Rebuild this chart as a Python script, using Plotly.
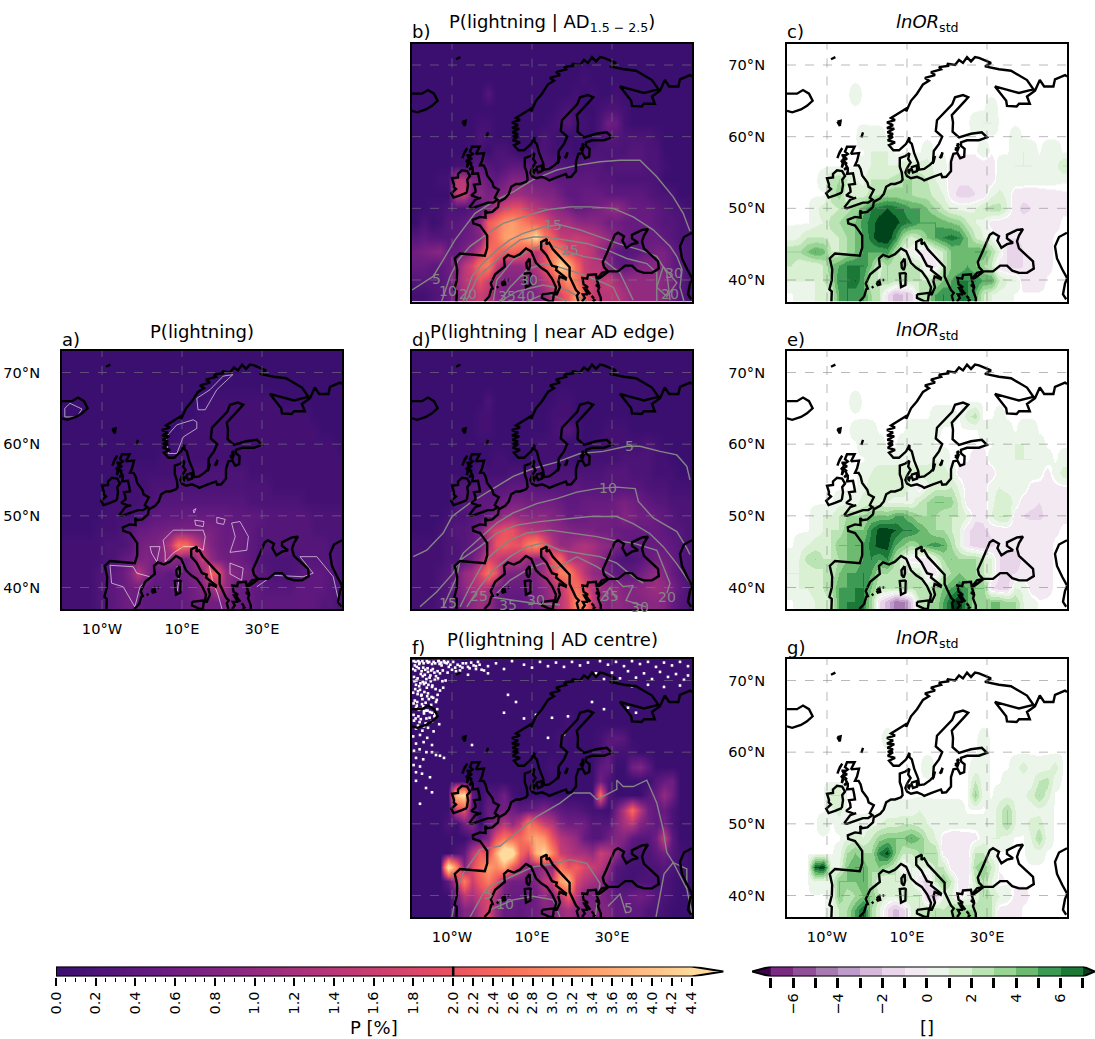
import plotly.graph_objects as go

W, H = 1095, 1039
FONT = "DejaVu Sans"

lon_centres = [-19,-17,-15,-13,-11,-9,-7,-5,-3,-1,1,3,5,7,9,11,13,15,17,19,21,23,25,27,29,31,33,35,37,39,41,43,45,47,49]
lat_centres = [72,70,68,66,64,62,60,58,56,54,52,50,48,46,44,42,40,38]

# Lightning probabilities, in tenths of a percent
p_all = [
[0]*35,[0]*35,[0]*35,
[0,0,0,0,0,0,0,0,0,0,0,0,0,0,0,0,0,0,1,1,1,1,1,1,1,1,1,0,0,0,0,0,0,0,0],
[0,0,0,0,0,0,0,0,0,0,0,0,0,0,0,0,0,1,1,1,1,1,1,1,1,1,1,1,1,1,1,0,0,0,0],
[0,0,0,0,0,0,0,0,0,0,0,0,0,0,0,1,1,1,1,1,1,1,1,1,1,1,1,1,1,1,1,1,0,0,0],
[0,0,0,0,0,0,0,0,0,0,0,0,0,0,1,1,1,1,1,1,1,1,1,1,1,1,1,1,1,1,1,1,1,1,0],
[0,0,0,0,0,0,0,0,0,0,0,0,1,1,1,1,1,1,1,1,1,1,1,1,1,1,1,1,1,1,1,1,1,1,1],
[0,0,0,0,0,0,0,0,1,1,1,1,1,1,2,2,2,2,2,2,2,2,2,1,1,1,1,1,1,1,1,1,1,1,1],
[0,0,0,0,0,0,0,1,1,1,1,2,2,2,2,2,2,2,2,2,2,2,2,2,2,2,1,1,1,1,1,1,1,1,1],
[0,0,0,0,0,0,1,1,1,1,2,2,3,3,3,3,3,3,3,3,3,3,3,2,2,2,2,2,2,2,1,1,1,1,1],
[0,0,0,0,0,1,1,1,1,2,3,4,4,4,4,5,5,5,5,5,5,4,4,4,4,3,3,3,3,3,3,2,2,2,2],
[0,0,0,0,1,1,1,2,3,5,5,6,6,7,7,7,7,7,7,6,5,5,5,4,3,3,3,3,3,3,3,2,2,2,2],
[1,1,1,1,1,2,2,2,3,6,7,7,9,14,26,25,18,12,8,6,5,6,5,4,3,3,3,3,3,3,3,3,3,2,2],
[1,1,1,1,1,2,2,4,5,7,8,7,9,10,8,6,9,16,10,7,6,6,5,4,3,2,2,2,2,2,3,3,3,3,2],
[1,1,1,1,2,3,4,5,8,14,9,5,5,4,5,6,8,9,22,20,10,8,7,6,4,3,2,2,2,3,4,4,4,3,2],
[1,1,1,1,2,3,4,5,6,6,5,4,4,4,5,5,6,9,10,14,10,6,5,5,4,3,3,3,3,4,4,4,4,3,2],
[1,1,1,1,2,3,4,5,6,5,4,4,4,4,4,5,6,6,6,6,8,6,5,5,4,4,4,4,4,4,4,4,3,3,2],
]
p_ad = [
[0]*35,[0]*35,
[0,0,0,0,0,0,0,0,0,0,0,0,0,0,0,0,0,0,0,0,0,1,0,0,0,0,0,0,0,0,0,0,0,0,0],
[0,0,0,0,0,0,0,0,0,3,0,0,0,0,0,0,0,0,0,0,1,0,1,0,0,1,0,0,0,0,0,0,0,0,0],
[0,0,0,0,0,0,0,0,0,0,0,0,0,0,0,0,0,0,1,2,1,0,0,1,2,2,1,0,0,0,0,0,0,0,0],
[0,0,0,0,0,0,0,0,1,1,0,0,0,0,0,0,0,1,2,3,1,1,0,2,6,5,1,0,0,0,0,0,0,0,0],
[0,0,0,0,0,0,0,0,2,1,0,0,0,0,0,0,2,1,0,0,0,0,0,2,3,3,2,2,2,2,1,0,0,0,0],
[0,0,0,0,0,0,0,1,1,0,2,2,1,0,0,2,2,1,1,1,0,2,2,2,2,2,2,3,3,2,2,0,0,0,0],
[0,0,0,0,0,1,1,3,4,3,2,3,4,4,4,3,3,3,3,2,2,3,3,3,2,3,3,3,3,2,2,1,0,0,0],
[0,0,0,1,1,14,14,8,7,5,4,6,8,8,7,6,6,5,4,4,4,4,4,3,3,2,2,2,2,2,2,0,0,0,0],
[0,0,0,0,0,15,16,7,9,7,8,9,11,11,10,9,8,8,6,4,4,5,5,5,4,4,4,4,4,3,2,2,2,0,0],
[0,0,1,1,2,2,2,3,4,8,14,18,20,20,16,14,12,10,9,7,5,5,6,7,9,10,8,5,5,5,4,3,2,2,1],
[0,2,0,1,3,3,4,6,10,22,26,32,34,30,26,22,20,15,12,12,10,9,9,8,6,6,5,5,5,5,4,3,3,2,2],
[3,4,3,3,3,4,5,6,8,20,26,34,35,33,38,46,28,22,16,15,16,15,14,12,10,8,6,5,5,5,5,4,3,2,2],
[6,7,8,9,5,5,7,10,16,26,24,22,24,22,18,14,18,30,28,18,16,16,14,10,8,4,3,3,4,6,7,7,5,3,2],
[5,5,4,4,5,8,14,18,26,28,16,10,10,10,12,14,20,28,44,38,24,16,14,14,8,5,4,6,8,8,9,7,5,3,2],
[3,3,3,3,5,10,14,16,20,16,10,8,8,8,8,10,14,18,24,32,26,18,16,14,16,12,10,10,10,10,10,9,7,4,2],
[1,1,2,3,5,8,12,14,16,14,9,7,7,7,7,8,10,14,18,22,34,22,16,14,14,14,12,10,10,10,10,8,6,3,2],
]
p_edge = [
[0]*35,[0]*35,[0]*35,
[0,0,0,0,0,0,0,0,0,2,0,0,0,0,0,0,0,0,1,1,0,0,0,0,0,0,0,0,0,0,0,0,0,0,0],
[0,0,0,0,0,0,0,0,1,1,0,0,0,0,0,0,0,1,1,1,0,0,0,0,0,0,0,0,0,0,0,0,0,0,0],
[0,0,0,0,0,0,0,0,1,1,0,0,0,0,0,0,0,1,2,3,1,0,0,0,1,1,1,0,0,0,0,0,0,0,0],
[0,0,0,0,0,0,0,0,0,0,0,0,0,0,0,1,1,1,1,0,0,0,0,1,1,1,1,1,1,2,1,0,0,0,0],
[0,0,0,0,0,0,0,0,0,0,1,1,0,0,0,1,1,1,1,1,0,1,1,1,1,1,2,2,2,2,1,1,0,0,0],
[0,0,0,0,0,0,0,0,2,1,1,1,2,2,2,2,2,2,2,2,2,2,2,2,3,3,3,2,2,2,1,1,1,0,0],
[0,0,0,0,0,3,3,3,3,3,3,3,4,4,4,3,3,3,3,3,4,3,3,3,3,3,3,3,3,2,2,2,1,1,1],
[0,0,0,0,0,2,3,3,4,4,5,6,7,7,6,6,6,6,5,4,4,5,5,5,5,6,7,6,5,4,3,3,2,2,2],
[0,0,0,0,1,2,2,3,3,5,8,10,11,10,9,9,9,8,7,5,5,5,6,6,6,6,8,7,6,6,5,4,3,2,2],
[0,0,0,1,2,3,3,4,7,14,18,20,20,16,14,13,12,10,9,8,7,7,7,6,6,5,5,5,5,5,5,4,3,3,2],
[1,1,1,1,2,2,3,4,6,12,20,22,20,20,28,31,22,14,10,10,12,13,12,10,9,7,5,4,4,5,5,5,4,3,2],
[1,1,1,1,2,2,3,6,10,18,16,14,14,14,10,8,10,22,24,14,13,13,11,9,6,3,2,2,3,5,6,6,5,3,2],
[1,1,1,2,3,6,10,12,18,26,20,8,7,7,7,8,12,16,28,30,20,14,10,9,6,4,4,4,6,8,10,8,5,3,2],
[1,1,1,2,3,6,9,12,14,12,7,5,5,5,6,7,9,12,14,20,26,20,14,11,10,10,8,8,9,10,11,10,7,4,2],
[1,1,1,2,3,4,7,9,11,10,6,4,4,4,5,6,8,11,14,18,30,30,16,10,8,10,9,8,8,9,9,8,5,3,2],
]
p_centre = [
[0]*35,[0]*35,[0]*35,[0]*35,
[0,0,0,0,0,0,0,0,0,0,0,0,0,0,0,0,0,0,0,1,0,0,0,0,0,0,0,0,0,0,0,0,0,0,0],
[0,0,0,0,0,0,0,0,0,0,0,0,0,0,0,0,0,0,1,0,0,0,0,1,3,4,3,0,0,0,0,0,0,0,0],
[0,0,0,0,0,0,0,0,0,0,0,0,0,0,0,0,0,0,0,0,0,0,0,1,4,1,1,1,0,0,0,0,0,0,0],
[0,0,0,0,0,0,0,0,0,0,0,0,0,0,0,0,0,1,0,0,0,0,0,4,5,0,0,6,8,4,0,0,0,0,0],
[0,0,0,0,0,0,0,0,0,0,0,0,0,0,0,0,0,0,0,0,0,0,0,6,2,0,0,0,0,0,3,5,6,0,0],
[0,0,0,0,0,40,46,4,0,3,3,6,1,0,0,0,0,0,0,0,0,0,0,25,3,0,0,0,0,3,5,10,6,0,0],
[0,0,0,0,0,15,20,4,0,5,5,6,6,4,5,6,8,6,4,3,3,2,1,1,0,6,14,24,14,6,4,5,2,0,0],
[0,0,0,0,2,0,6,8,0,5,10,14,10,15,28,22,16,14,8,6,6,6,3,3,3,8,12,14,8,6,4,6,2,0,0],
[0,0,0,0,0,0,0,3,4,8,20,26,24,24,30,36,32,20,14,12,10,5,3,3,6,8,8,4,3,3,6,16,4,0,0],
[0,0,0,0,0,2,4,14,22,18,36,55,50,24,18,38,44,30,16,14,12,12,10,16,14,10,4,2,2,2,4,6,3,1,0],
[0,0,0,0,50,30,8,18,26,34,30,36,22,14,8,8,10,10,28,20,22,18,16,14,10,3,2,1,1,2,2,3,2,1,0],
[0,0,0,0,4,14,28,16,22,28,20,8,6,6,6,8,14,16,34,40,18,14,12,10,6,2,1,1,2,2,2,2,1,0,0],
[0,0,0,0,0,6,14,12,16,18,12,6,5,5,5,6,10,8,14,22,14,8,7,8,6,4,4,5,6,5,3,2,1,0,0],
[0,0,0,0,0,3,8,8,14,18,10,5,5,4,5,6,8,8,10,12,10,8,8,8,8,4,4,4,4,2,2,1,0,0,0],
]

# Standardised log odds ratios
or_ad = [
[0]*35,[0]*35,[0]*35,
[0,0,0,0,0,0,0,0,.5,0,0,0,0,0,0,0,0,0,0,0,0,0,0,0,0,0,0,0,0,0,0,0,0,0,0],
[0,0,0,0,0,0,0,0,0,0,0,0,0,0,0,0,0,0,0,0,0,0,0,0,0,.5,0,0,0,0,0,0,0,0,0],
[0,0,0,0,0,0,0,0,0,0,0,0,0,0,0,0,0,0,0,0,0,0,0,.5,1,1,0,0,0,0,0,0,0,0,0],
[0,0,0,0,0,0,0,0,0,1,.5,.5,0,0,0,0,0,0,0,0,0,0,0,0,0,0,0,0,.5,0,0,0,0,0,0],
[0,0,0,0,0,0,0,0,0,0,1,1,1,0,0,0,0,.5,0,0,0,0,0,0,.5,0,0,0,.5,1,.5,0,.5,.5,0],
[0,0,0,0,0,0,0,0,0,.5,1,1,1,1,1.5,1.5,1.5,1.5,.6,.5,-.5,-.5,-.5,-.5,-.5,-.5,.4,.6,1,1,1,.6,.6,.6,2],
[0,0,0,0,.5,2.5,3,2,1,.7,2,2,2,2.5,3,3,2.5,2,1,.5,-.6,-.8,-.8,-.7,-.6,-.5,.5,.7,.7,.7,.6,.5,.4,.3,.2],
[0,0,0,0,0,2.5,3.5,1,1.5,1.5,2.5,3,3.5,3.5,3,3,2.5,2.5,1.5,1,-.7,-1.3,-1.4,-1,-.7,.7,1.3,.7,-.7,-.8,-.8,-.6,-.4,-.3,-.2],
[0,0,0,.7,1.5,1.5,2,2.5,3.5,4.5,6,6.5,7,6.5,6,5,5,4,3,2,1,.7,.7,1,2,2.5,2.5,1,-.8,-1.2,-1,-.8,-.5,-.3,-.2],
[0,0,0,.7,1,2.5,3,4,4,5.5,6.5,7.5,8,7.5,6.5,6,5,5,5,4.5,4,3.5,2,1,.7,-.6,-.8,-.9,-.8,-.7,-.6,-.6,-.4,-.3,0],
[.5,1,2,2,2,1.5,2,3,4,5,6.5,8,8,6,3,1.5,2.5,4,5,6,6.5,6,4,2,1,.7,-.8,-1,-1,-.8,-.8,-.6,-.4,0,0],
[3,3,4,5,4.5,2,2,3,4,5,5,5,5.5,3,1,.5,-.7,-.8,1,2,4,4,4,5,5,3,1,-1.2,-1.5,-1,-.7,-.5,-.3,0,0],
[2,1,1,1,2,4,5,6,6,6,4,1.5,3,2,3,2,2,-.8,-.8,2,4,4,5,4,3,2,-1,-1,-1.5,-1,-.8,-.5,-.3,0,0],
[1,1,1,1,2,3,6,6,7,5,2,2,3,2,2,2,2,2,3,4,5,6,6,6,5,5,2,1,1,-.5,-.5,-.5,0,0,0],
[0,.5,.5,1,1,2,5,6,5,5,3,2,-1,-2.5,-2,-1.5,2,3,5,6,5,6,6,5,2,1,.5,.5,0,0,0,0,0,0,0],
]
or_edge = [
[0]*35,[0]*35,[0]*35,
[0,0,0,0,0,0,0,0,.5,0,0,0,0,0,0,0,0,0,0,0,0,0,0,0,0,0,0,0,0,0,0,0,0,0,0],
[0,0,0,0,0,0,0,0,0,0,0,0,0,0,0,0,0,0,.4,.4,.4,0,1.5,2.5,0,0,.4,0,0,0,0,0,0,0,0],
[0,0,0,0,0,0,0,0,.4,.6,.4,0,0,0,0,.6,.6,.6,.4,0,0,0,0,0,.4,.6,.6,.4,0,.6,.6,0,0,0,0],
[0,0,0,0,0,0,0,0,0,.6,.6,.4,0,0,.6,.6,.6,.4,0,0,0,0,0,0,0,0,.6,.7,1,1,.6,.4,0,0,0],
[0,0,0,0,0,0,0,0,0,0,.7,.7,.7,.7,.7,.7,.7,.7,1,.7,0,0,0,-.4,-.5,.6,.7,.7,1,1,1,.6,.4,0,.4],
[0,0,0,0,0,0,0,0,0,.6,1,1.5,1.5,1.5,1.5,1.5,1.5,1.5,1.5,1.5,.7,-.4,-.6,-.8,-.7,-.8,.7,.7,.7,.7,.7,.4,-.4,.4,1.5],
[0,0,0,0,0,0,0,0,0,.7,1.5,1.5,1.5,1.5,1.5,.7,-.6,.7,1.5,1.5,2,.7,-.6,-.7,-.7,.7,1,.7,.7,.7,-.5,-.5,-.4,-.3,-.2],
[0,0,0,0,0,0,.6,.6,.6,1.5,1.5,1.5,1,.7,.7,.7,2,3,4,4,3.5,1.5,-.6,-.7,-.8,.7,1.5,1.5,.7,-.7,-.8,-1,-.8,-.5,-.2],
[0,0,0,.5,1,1,2,3,3,3,4,4,4,5,5,4,3,3,3,2,2,2,1,-.7,-.8,1,2,2,-.7,-1,-1.2,-1.2,-.8,-.5,-.2],
[0,0,0,.5,1,2,2,4,4,4,6,7.5,7.5,7,6,6,5,4,3,3,2,1,-.8,-1.5,-1.2,-.8,-.7,-.6,-.6,-.6,-.5,-.5,-.4,-.2,0],
[0,.5,1,1.5,1.5,2,4,4,5,5,6.5,7.5,7.5,5,4,3,4,5,5.5,5,3,1,-.8,-1.5,-1.8,-1.2,-.8,-.8,-.7,-.5,-.5,-.4,-.3,0,0],
[.5,1,2.5,3,2,2,3,4,4,5,6,5,6,3,1,-.5,-.7,-.8,1,3,4,3,3,3,2,1,-1,-1.2,-1.5,-.8,-.5,-.5,-.3,0,0],
[1,1,1,1.5,2,2,4,5,5,6,5,3,3,2,2,2,2,-.7,-.7,2,3,4,3,3,2,1,-1,-1.2,-1,-.7,-.6,-.5,-.3,0,0],
[.5,1,1,1.5,2,3,5,5,6,6,4,2,2,2,3,2,3,2,3,4,5,6,5,4,4,-1,-1.5,-1.5,1,.8,-.5,-.6,-.3,0,0],
[0,.5,.5,1,1.5,2,5,6,6,6,3,-1,-2.5,-4.5,-4.5,-2,2,3,3,5,7,8,5,3,3,4,4,3,3,1,.5,0,0,0,0],
]
or_centre = [
[0]*35,[0]*35,[0]*35,[0]*35,[0]*35,
[0,0,0,0,0,0,0,0,0,0,0,0,.4,0,0,0,0,0,0,0,0,0,0,0,.4,0,0,0,0,0,0,0,0,0,0],
[0,0,0,0,0,0,0,0,0,0,0,0,0,0,0,0,0,0,0,0,0,0,0,0,.6,0,0,0,0,0,0,0,0,0,0],
[0,0,0,0,0,0,0,0,0,0,0,0,0,0,0,0,0,.6,0,0,0,0,0,.4,.6,0,0,0,.6,1.5,.6,.4,.6,1.5,0],
[0,0,0,0,0,0,0,0,0,0,0,0,0,0,0,0,0,0,0,0,0,0,0,2,.4,0,0,.6,.4,.4,.6,2,2.5,.4,0],
[0,0,0,0,0,2,2,0,0,0,0,0,0,0,0,0,0,0,0,0,0,0,0,3.5,.4,0,.6,.7,.7,.7,1.5,3,1.5,0,0],
[0,0,0,0,0,.7,1.5,0,0,0,0,0,.4,.4,.4,.4,1,.7,.4,.4,.4,.4,0,0,0,.4,1.5,3,1,.7,.4,.7,.4,0,0],
[0,0,0,0,.7,0,.4,.7,.4,.4,.7,1,1.5,1.5,2,2,1.5,1,.7,.7,.4,.4,.4,.4,.4,.4,1.5,3,1,.4,1.5,1.5,.4,0,0],
[0,0,0,0,0,0,0,1,1.5,1,2,3.5,4,4,4,5,4,2,1,-.5,-.6,-.6,-.5,-.4,.5,1,1,.5,0,0,1,3,.5,0,0],
[0,0,0,0,0,0,.5,3,4,3,3,6,7.5,4,2,2,3,3,3,-.5,-.7,-.8,-.6,2,2,.5,0,0,0,0,.5,.5,0,0,0],
[0,0,0,7,8,1,1,4,5,5,3,4,3,2,-.6,1,1,1,2,2,-.6,-1,-.7,3,4,2,0,0,0,0,0,0,0,0,0],
[0,0,0,1,.5,1,4,4,4,5,3,1,1,2,2,1,-.8,-1.5,2,4,2,-.5,-.7,2,3,1,-.3,0,0,0,0,0,0,0,0],
[0,0,0,0,0,.5,4,2,3,4,4,2,1,1,2,2,2,-2,-2.5,1,1,-.5,.5,1,3,2,1,.5,-.3,-.3,0,0,0,0,0],
[0,0,0,0,0,.5,2,3,5,7,3,1,-1,-2.5,-1.5,1,2,2,3,2,3,4,3,3,2,2,-.5,-.5,-.5,0,0,0,0,0,0],
]

# Coast outlines as lon/lat lines
coast_segments = [
 [(-20,63.6),(-18.7,63.4),(-16.5,63.8),(-15,64.3),(-13.6,65),(-14.5,66),(-16,66.5),(-17.5,66),(-19,66),(-20,66)],
 [(-9,70.8),(-7.9,71.1)],
 [(-7.4,62.1),(-6.6,62.2),(-6.8,61.5),(-7.4,62.1)],
 [(-1.4,59.9),(-1,60.6)],
 [(-7.4,57),(-7,57.6),(-6.2,58.4),(-6.8,57.9),(-7.4,57)],
 [(-6.5,56.7),(-5.9,56.2),(-6.3,55.7),(-5.7,57.4),(-6.4,57.4)],
 [(-5.7,50.1),(-5,50),(-3.5,50.3),(-2,50.6),(-1,50.8),(0.3,50.8),(1.4,51.2),(0.7,51.5),(1.7,52.6),(0.4,53),(0.1,53.6),(-1.2,54.6),(-1.6,55.5),(-2.1,56),(-3,56),(-2.5,56.6),(-2,57.4),(-2,57.7),(-4,57.6),(-3.1,58.6),(-5,58.6),(-5.5,57.9),(-4.8,57.6),(-5.8,57.2),(-5,56.9),(-6,56.7),(-5,56.2),(-5.5,56.3),(-5,55.8),(-5.7,55.4),(-4.8,55.7),(-4.8,55.2),(-5,54.8),(-3.5,54.9),(-3.2,54.1),(-3,53.4),(-4.5,53.3),(-4.2,52.8),(-4.1,52.3),(-5.2,51.8),(-3.2,51.4),(-2.7,51.5),(-4.2,51.2),(-5.7,50.1)],
 [(-6.3,52.2),(-6,53.3),(-6.2,54),(-5.5,54.5),(-6.2,55.2),(-7.5,55.3),(-8.5,54.8),(-8.5,54.3),(-10,54.2),(-9.5,53.3),(-9.6,53),(-9,52.7),(-10.2,52.1),(-9.6,51.5),(-8,51.8),(-6.3,52.2)],
 [(-8.9,37),(-8.8,38.4),(-9.4,38.7),(-8.8,40),(-8.7,41.5),(-8.9,42.2),(-9.3,43),(-8,43.7),(-6,43.6),(-3.8,43.5),(-1.8,43.4),(-1.2,44.5),(-1.1,45.5),(-1.2,46.2),(-2.2,47),(-3,47.6),(-4.7,47.9),(-4.8,48.4),(-3,48.8),(-1.6,48.7),(-1.7,49.7),(-1.2,49.4),(0.1,49.5),(1.5,50.2),(1.7,50.9),(3.3,51.4),(4.2,52),(4.8,53),(6,53.4),(7,53.4),(8.5,53.7),(8.9,54),(8.7,55),(8.2,55.8),(8.2,57),(9.6,57.3),(10.6,57.7),(10.3,56.9),(10.9,56.4),(10,55.6),(9.6,55),(10,54.5),(11,54.2),(12.5,54.4),(13.8,54.1),(14.3,53.9),(16,54.3),(18.5,54.8),(18.8,54.35),(19.8,54.4),(21,55.2),(21,56.5),(21.6,57.6),(22.6,57.7),(23.3,57),(24.3,57.2),(24.4,58.3),(23.5,58.7),(23.5,59.2),(25,59.5),(28,59.5),(30,59.9),(28.7,60.6),(26,60.4),(23,59.9),(21.4,60.7),(21.5,62),(21.2,63),(24.5,65),(25.3,65.5),(24,65.8),(22,65.5),(21.3,64.5),(19,63.2),(17.5,62.3),(17.2,60.8),(18.8,60),(18,59),(16.7,58),(16.5,56.5),(15.8,56.1),(14.3,55.5),(13,55.4),(12.8,56.3),(11.8,57.7),(11.2,59),(10.6,59.3),(10.6,59.9),(9.8,59),(8,58.1),(6.6,58.1),(5.5,58.8),(7,59.2),(5.2,59.5),(6.5,60),(5.2,60),(6.5,60.4),(5.1,60.6),(6.8,61.1),(5,61.2),(6.5,61.6),(5,62),(7,62.3),(6,62.6),(8.5,63.5),(10,64),(9.8,63.5),(11,65),(12.5,66),(14,67.3),(15.5,67.8),(14.5,68.2),(17,68.6),(16,69),(18.5,69.4),(18,69.7),(20.5,69.9),(20,70.2),(22,70),(23,70.7),(24,70.3),(25,71.1),(26,70.5),(27,71.1),(28,71),(31,70.3),(29.5,69.8),(33,69.4),(36,69.2),(40,67.9),(41.6,66.6),(38,66.1),(34,66.7),(32,67),(34.8,65),(35,64.3),(37.4,64.2),(38,64.6),(40.7,64.6),(40,65.6),(42,66.4),(43.2,67.9),(44.3,67),(46.6,67),(47,68),(49.5,68.6),(50,68.4)],
 [(-1.9,37),(-0.7,37.7),(-0.2,38.7),(0.2,38.8),(-0.3,39.5),(0.8,40.8),(3.2,41.9),(3,43),(4,43.5),(5.5,43.2),(7,43.6),(8.5,44.4),(9.8,44),(10.5,43),(11,42.4),(12.3,41.7),(13.7,41.2),(15,40.2),(16,39),(15.7,38),(16.2,38),(17,39),(16.6,39.8),(16.9,40.5),(18.4,40.1),(18.5,40.3),(16,41.4),(16.2,41.8),(15,42),(13.6,43.5),(12.3,44.3),(12.3,45.3),(13.7,45.7),(13.6,45),(14.3,45.2),(15.2,44.3),(16.5,43.5),(18.5,42.4),(19.4,41.8),(19.4,40.5),(20.2,39.5),(21,38.6),(21.7,38.2),(21.2,37.8),(21.6,37)],
 [(22.5,37),(23.2,37.5),(22.7,38),(24,38),(23,38.9),(24,39),(22.9,39.4),(22.6,40.3),(23.8,40.2),(24,40.7),(26,40.8),(26.2,40.1),(27.5,41),(29,41.2),(28,41.8),(27.7,42.5),(28.6,43.6),(29.7,45.1),(30.7,46.3),(31.5,46.6),(33,46.1),(32.6,45.5),(33.6,44.5),(35,45),(36.5,45.2),(35,45.8),(35,46.3),(37.5,47),(39,47.1),(38,46.2),(37.5,45.4),(38,44.4),(39.7,43.5),(41.5,42.6),(41.7,41.6),(40,41),(38,41),(36.3,41.3),(35,42),(33.3,42),(31.5,41.2),(29.2,41.2),(27.5,40.5),(26.2,40),(26.8,39),(26.5,38.5),(27.2,37.5),(27.2,37)],
 [(50,46.6),(48,46),(47,44.7),(47.5,43),(48.8,41.5),(50,40.3)],
 [(50,40.2),(49.5,39.5),(49,38),(49.8,37.3)],
 [(9.4,43),(9.5,42),(9.2,41.4),(8.7,41.7),(8.6,42.4),(9.4,43)],
 [(9.7,41),(9.6,39.3),(8.5,39),(8.2,40.9),(9.7,41)],
 [(2.4,39.6),(3.1,39.9),(3.3,39.4),(2.7,39.3),(2.4,39.6)],
 [(3.9,40),(4.3,40)],
 [(1.2,38.9),(1.6,39.1)],
 [(12.5,38),(15.5,38.2),(15.2,37),(14.5,37),(12.5,37.5),(12.5,38)],
 [(11,55.7),(12.5,56),(12.5,55.2),(11.5,55),(11,55.7)],
 [(10,55.3),(10.8,55.4),(10.5,55),(10,55.3)],
 [(18.2,57),(18.9,57.8),(18.6,57.2),(18.2,57)],
 [(16.4,56.2),(17,57.3),(16.6,56.4)],
 [(22,58.3),(23,58.6),(22.6,58),(22,58.3)],
 [(22.4,58.9),(23,59),(22.7,58.7),(22.4,58.9)],
 [(23.5,38.8),(24.6,38),(24,38.4),(23.5,38.8)],
 [(25.9,39.3),(26.5,39.2),(26.2,39)],
 [(24.9,37.8),(25.5,37.4)],
 [(25.2,37),(25.6,37.2),(25.3,37.3)],
]

# Contour levels drawn as lines
contours_a = [
 [(-19.3,65),(-18,65.7),(-15,64.9),(-16.3,63.8),(-19.3,63.8),(-19.3,65)],
 [(22.7,69.7),(20.3,69.5),(17,67.6),(13.7,66.4),(14,64.8),(15.8,64.8),(18.7,67.6),(22.7,69.7)],
 [(12.8,63.4),(8.7,62.7),(6,61),(6.6,58.7),(8.7,58.7),(10.3,61),(13.7,62.2),(13.7,63.1),(12.8,63.4)],
 [(5.8,44.8),(5.3,46.6),(7.8,48),(10.3,48),(15.3,48),(15.8,47.1),(15.3,45.2),(13.7,45.7),(10.3,45.7),(7.8,44.8),(5.8,43.6),(5.8,44.8)],
 [(2,45.7),(4.5,45.7),(3.7,43.6),(2.4,44.8),(2,45.7)],
 [(12.8,50.8),(13.5,51),(13,50.4),(12.8,50.8)],
 [(13.2,49.4),(15.5,49.2),(15.3,48.5),(13.4,48.7),(13.2,49.4)],
 [(18.7,49.8),(20.8,49.5),(20.4,48.8),(18.7,49),(18.7,49.8)],
 [(22.4,49),(24.5,49.2),(26.6,47.1),(26.2,45.2),(22,44.9),(23.3,47.1),(22.4,49)],
 [(22,43.4),(25.3,42.7),(24.9,41),(22,41.9),(22,43.4)],
 [(-8,43.1),(-2.2,42.9),(-1.3,42),(2,41.5),(-0.5,40.1),(-1.8,37.3),(-4.7,40.1),(-7.6,40.6),(-8,43.1)],
 [(28.7,40.1),(32.8,41.7),(40.3,41.5),(42.8,42),(39.5,44.3),(43.7,44.3),(47.8,41.5),(49.5,37.3)],
 [(8.8,43),(9.2,41),(8.8,39.5)],
 [(16.8,43.1),(17.6,41),(19,39),(20,37)],
]
contours_b = [
 [(-20,38.6),(-14.7,40.5),(-12.2,42.8),(-9.25,45.6),(-4.25,49.3),(1.2,51.2),(5.3,52.3),(10.3,54),(16.2,55.35),(21.2,56),(27,56.5),(32,56.7),(37,56.7),(41.2,54.4),(45.3,51.6),(47.8,49.3),(49.5,46.8)],
 [(-12.6,37),(-10.5,40.5),(-8.4,42.8),(-5.5,44.7),(-1,46.5),(2.8,47.9),(7.8,48.8),(13.7,49.8),(19.5,50.2),(24.5,50.2),(30.3,50),(35.3,48.8),(40.3,47),(44.5,44.7),(46.2,43.3),(47.5,41.5),(47,39),(48,37)],
 [(-7.2,37),(-5,40.5),(-2.2,42.4),(1.2,44.2),(4.5,45.6),(7.8,46.5),(12.8,47.4),(17,47.7),(22,47),(27,46),(32,45),(37,44.2),(41.2,43.3),(43.7,41),(44.5,37.2)],
 [(-6.5,37),(-3.5,40.5),(-0.5,41.9),(3.7,44.2),(7,45.6),(10.3,46),(13.7,46),(18.7,45.6),(23.7,45.1),(28.7,44.2),(33.7,43),(38.7,42.3),(41.2,41),(41.2,37)],
 [(0.3,37),(1.2,40),(5.3,42.8),(9.5,44.2),(13.7,45.1),(17.8,44.2),(22.8,43.3),(27.8,42.8),(32,41),(35.3,37.2)],
 [(2,37),(4.5,39),(8.7,41.4),(12.8,42.3),(16.2,41.9),(22,40.9),(26.2,40),(30.3,39),(32,37)],
 [(2,37),(6.2,38.4),(12.8,39.3),(18.7,38.6),(23.7,37)],
 [(8.7,37),(13.7,38.2),(18.7,37)],
 [(42.8,41.9),(46.2,39.6),(43.7,37.7),(41.2,39),(42.8,41.9)],
]
contours_d = [
 [(-19.7,44.3),(-16.3,45.2),(-12.2,47.6),(-10,49.9),(-5,52),(0.3,53.8),(5.3,55.5),(10.3,56.6),(16.2,57.5),(22,58.7),(27.8,59),(33.7,59.7),(37,59.7),(42,59),(46.2,58.5),(48.7,56.9),(49.5,55)],
 [(-18,37.3),(-13.8,39.4),(-9.7,42),(-7.2,44.8),(-3,46.9),(1.2,49),(5.3,50.4),(11.2,51.7),(16.2,52.4),(21.2,53.3),(26.2,53.8),(31.2,54),(35.8,53.8),(36.6,52),(40.3,49.7),(46.2,47.8),(48.7,45.5),(49.5,44.6)],
 [(-12.2,37.3),(-8.8,41.5),(-8,43.8),(-3,45.7),(1.2,47.6),(6.2,48.7),(12,49.2),(18.7,49.6),(24.5,49.9),(31.2,49.9),(35.3,48.9),(39.5,47.5),(42.8,45.7),(46.2,43.3),(49.5,40.6)],
 [(-8,37.3),(-5.5,40.1),(-2.2,43.4),(0.3,44.8),(4.5,46.6),(8.7,47.6),(14.5,48),(20.3,47.6),(26.2,47.1),(30.3,46.6),(35.3,46.2),(41.2,45.2),(42.8,42.9),(44.5,40.6),(43.7,39.2)],
 [(-6.3,37.3),(-3,40.1),(0.3,42.4),(4.5,44.3),(8.7,45.7),(12.8,46.2),(17,45.2),(22,44.8),(27,44.3),(31.2,43.4),(35.3,41.5),(37.8,40.6)],
 [(1.2,39.2),(4.5,41),(9.5,42.7),(12.8,43.4),(16.2,42.7),(21.2,44.3),(26.2,42.9),(30.3,41.5),(32.8,40.1),(35.3,40.3),(33.5,38.2),(38.5,37.3)],
 [(-0.5,38.7),(4.5,38.3),(10.3,37.8),(17,37.6)],
 [(27,38),(29.5,40),(31,38.5)],
]
contours_f = [
 [(-10,37),(-8.8,40.8),(-7.2,43.1),(-3,46.4),(2,46.9),(6.2,48.8),(11.2,51),(17,52.9),(20.3,54.3),(24.5,54.3),(26.2,53.4),(31.2,54.8),(31.2,56.1),(32.8,55.2),(35.3,55.2),(38.7,56.1),(41.2,52.9),(42.8,49.2),(43.7,46),(45.3,44.6),(48.7,43.7),(48.7,40.9)],
 [(-5.5,37),(-2.2,40.3),(-0.5,41.3),(6.2,43),(10.3,44),(16.2,44.5),(19.5,45),(23.7,44.5),(27,41.7),(25.8,37)],
 [(-0.5,38),(5.3,39.4),(10.3,39.9),(15.3,39.4),(17,37)],
 [(29,38.5),(32,40.2),(33.5,37.5)],
 [(41,37),(43,43),(45.3,44.6),(48.7,40.9),(50,37.5)],
]
labels_b = [(-14,40.2,"5"),(-11,38.5,"10"),(-6,38,"20"),(15.3,47.7,"15"),(19.5,44.2,"25"),(9.3,40,"30"),(3.8,37.8,"35"),(8.6,37.8,"40"),(45.5,41,"30"),(44.5,38,"20")]
labels_d = [(34.3,59.7,"5"),(29,53.9,"10"),(-11,37.8,"15"),(-3.3,38.8,"25"),(4,37.6,"35"),(11,38.2,"30"),(29.5,38.8,"35"),(37,37.3,"30"),(43.7,38.7,"20")]
labels_f = [(3.2,38.8,"10"),(-1,40.2,"5"),(34,38.3,"5")]

# Cells without data in panel f
speckle_lon = [-19.6,-19.1,-18.4,-18.1,-17.4,-17.1,-16.3,-16,-15.7,-15,-14.6,-14.2,-13.4,-13.1,-12.7,-12,-11.3,-11,-10.4,-19.8,-19.2,-18.3,-17.6,-16.7,-16,-15.2,-14.4,-13.6,-13,-12.3,-11.1,-10,-9,-19.5,-18.6,-17.3,-16.4,-15.6,-14.3,-13.5,-12.4,-11.6,-9.2,-8,-7.3,-6,-5.2,-4,-3.1,-2,-1,-19,-18.2,-17,-16.3,-15,-14.1,-13,-12.2,-19.7,-18.5,-17.6,-16,-15.1,-13.6,-19.3,-18.7,-17.4,-16.6,-15.2,-14,-19,-18,-17.2,-16.1,-15,-13.7,-19.6,-18.4,-17,-15.6,-14.4,-19.5,-18.1,-16.6,-15,-13.2,-19,-17.4,-16,-14.6,-19.7,-18,-16.2,-19,-17.1,-15,-19.5,-18.1,-16.4,-19,-17.2,-19.6,-18,-19,-17.5,-15.5,-19,-16.5,-15,-18,-8,-6,-4,-1,1,3,5,8,10,12,14,16,18,20,22,24,27,29,31,33,35,37,39,41,43,45,47,49,26,30,34,38,42,46,49,28,32,36,40,44,48,35,39,43,47,3,8,11,15,19,-13,-12,-15,-14,34,36,28,25,18,14,4,6,-5,-19.3,-18.8,-18.2,-17.8,-17.2,-16.8,-16.1,-15.4,-14.8,-14,-19.4,-18.9,-17.9,-17.3,-16.6,-15.9,-15.3,-14.9,-19.2,-18.6,-18,-17.7,-16.9,-16.2,-15.8,-14.7,-13.8,-19.6,-18.8,-18.3,-17.5,-17,-16.5,-15.5,-14.2,-19.1,-18.5,-17.8,-17,-16.4,-13.3,-12.6,-11.8,-10.8,-9.7,-8.6,-7.4,-6.5,-5.6,-4.6,-3.5,-2.6]
speckle_lat = [72.7,72.6,72.7,72.5,72.7,72.4,72.7,72.5,72.6,72.3,72.6,72.4,72.7,72.3,72.5,72.7,72.4,72.6,72.2,71.6,71.4,71.7,71.3,71.5,71.2,71.4,71.1,71.3,71,71.4,71.1,71.5,71.3,70.5,70.3,70.6,70.2,70.4,70.1,70.3,69.9,70,71.8,72,72.4,71.9,72.5,71.6,72.2,71.4,72,69.4,69.2,69.5,69,69.1,68.8,68.6,69,68.3,68.5,68,68.2,67.7,68,67.2,67,67.4,66.9,66.6,67,66.2,66,66.4,65.8,65.5,66,65.2,65,65.4,64.8,65,64.4,64.2,64,64.3,63.9,63.3,63,63.4,62.9,62.2,62.4,62,61.2,61.4,61,60.2,60.4,60,59.2,59,58.2,58,57.2,57,56.5,56,55,54.4,52.8,71.4,70.8,72,71,72.4,71.6,72.7,72.2,71.8,72.6,72,72.5,71.9,72.6,72.1,72.5,72.7,72.2,72.6,72,72.7,72.3,72.6,71.9,72.5,72.1,72.6,72,71,71.1,71.3,71,71.2,70.9,70.7,70.2,70.3,70.4,70.2,70.5,70.1,69.2,69.4,69.1,69.3,65.5,64.7,65.2,64.8,65,59.5,59.2,60,59.6,66.2,65.5,66,67,62.5,62,68,67,61,72.1,71.9,72.3,70.9,71.8,70.8,71.7,70.7,71.6,70.6,69.9,70,69.6,69.8,69.7,69.4,69.9,69.3,68.8,68.1,68.7,67.9,68.4,67.8,67.4,67.6,67.3,66.8,66.5,65.9,66.7,65.7,65.8,65.6,65.3,64.7,63.7,64.6,63.6,64.7,72.7,72.1,72.5,71.9,72.6,72.2,71.8,72.4,71.7,72.1,72.6,71.5]

# Colour scales
p_knots = [0,0.465,0.93,1.395,1.86,2.0,2.58,3.41,4.24,4.4]
p_colors = ["#3b0f70","#641a80","#8c2981","#b73779","#de4968","#e9535f","#f7705c","#fe9f6d","#fecf92","#fedb9c"]
or_bounds = [-8,-7,-6,-5,-4,-3,-2,-1,-0.1,0.1,1,2,3,4,5,6,7,8]
or_colors = ["#40004b","#7b2a82","#904f97","#a77bb1","#bd9ccb","#d5b8da","#e8d5ea","#f3e9f2","#ffffff","#ecf5e9","#d9f0d3","#bbe4b4","#98d594","#6dbb70","#3d9a55","#1b7837","#00441b"]

p_major_ticks = [0.0,0.2,0.4,0.6,0.8,1.0,1.2,1.4,1.6,1.8,2.0,2.2,2.4,2.6,2.8,3.0,3.2,3.4,3.6,3.8,4.0,4.2,4.4]
or_major_ticks = [-6,-4,-2,0,2,4,6]
or_minor_ticks = [-7,-5,-3,-1,1,3,5,7]
or_bin_centres = [-6.5,-5.5,-4.5,-3.5,-2.5,-1.5,-0.5,0.5,1.5,2.5,3.5,4.5,5.5,6.5]
lon_ticks, lon_text = [-10,10,30], ["10°W","10°E","30°E"]
lat_ticks, lat_text = [40,50,60,70], ["40°N","50°N","60°N","70°N"]

p_scale = [[k/4.4, c] for k, c in zip(p_knots, p_colors)]
or_scale = []
for i, c in enumerate(or_colors):
    or_scale.append([(or_bounds[i]+8)/16, c])
    or_scale.append([(or_bounds[i+1]+8)/16, c])


def scale_tenths(grid):
    return [[v/10 for v in row] for row in grid]


def squeeze(p):
    return p if p <= 2 else 2+(p-2)/2


def join(segments):
    xs, ys = [], []
    for s in segments:
        xs += [q[0] for q in s]+[None]
        ys += [q[1] for q in s]+[None]
    return xs, ys


GREY = "#858585"
rows_y = {"top": (43.5, 301.5), "mid": (351, 609), "bot": (659, 917)}
panels = [
    dict(key="a", x=(62, 342), y=rows_y["mid"], grid=p_all, kind="p", title="P(lightning)", cont=contours_a, ccol="rgba(255,255,255,0.75)", cw=0.8, labels=[], left=True, bottom=True, tx=202),
    dict(key="b", x=(412, 692), y=rows_y["top"], grid=p_ad, kind="p", title="P(lightning | AD<sub>1.5 − 2.5</sub>)", cont=contours_b, ccol=GREY, cw=1.4, labels=labels_b, left=False, bottom=False, tx=552),
    dict(key="d", x=(412, 692), y=rows_y["mid"], grid=p_edge, kind="p", title="P(lightning | near AD edge)", cont=contours_d, ccol=GREY, cw=1.4, labels=labels_d, left=False, bottom=False, tx=552),
    dict(key="f", x=(412, 692), y=rows_y["bot"], grid=p_centre, kind="p", title="P(lightning | AD centre)", cont=contours_f, ccol=GREY, cw=1.4, labels=labels_f, left=False, bottom=True, tx=552),
    dict(key="c", x=(787, 1067), y=rows_y["top"], grid=or_ad, kind="or", title="<i>lnOR</i><sub>std</sub>", cont=[], ccol="", cw=0, labels=[], left=True, bottom=False, tx=927),
    dict(key="e", x=(787, 1067), y=rows_y["mid"], grid=or_edge, kind="or", title="<i>lnOR</i><sub>std</sub>", cont=[], ccol="", cw=0, labels=[], left=True, bottom=False, tx=927),
    dict(key="g", x=(787, 1067), y=rows_y["bot"], grid=or_centre, kind="or", title="<i>lnOR</i><sub>std</sub>", cont=[], ccol="", cw=0, labels=[], left=True, bottom=True, tx=927),
]

fig = go.Figure()
layout = {}
shapes, annotations = [], []
TICK_FONT = dict(family=FONT, size=14.6, color="black")


def note(x, y, text, size=18, xanchor="center", color="black", xref="paper", yref="paper", yanchor="middle"):
    annotations.append(dict(x=x, y=y, xref=xref, yref=yref, text=text, showarrow=False,
                            xanchor=xanchor, yanchor=yanchor,
                            font=dict(family=FONT, size=size, color=color)))


coast_x, coast_y = join(coast_segments)
for n, pn in enumerate(panels, start=1):
    xa, ya = f"x{n}", f"y{n}"
    layout[f"xaxis{n}"] = dict(domain=[pn["x"][0]/W, pn["x"][1]/W], range=[-20, 50], anchor=ya, automargin=False,
                               showgrid=False, zeroline=False, showline=True, mirror=True, linecolor="black", linewidth=2,
                               tickmode="array", tickvals=lon_ticks, ticktext=lon_text, showticklabels=pn["bottom"],
                               ticks="", ticklabelstandoff=5, tickfont=TICK_FONT)
    layout[f"yaxis{n}"] = dict(domain=[1-pn["y"][1]/H, 1-pn["y"][0]/H], range=[37, 73], anchor=xa, automargin=False,
                               showgrid=False, zeroline=False, showline=True, mirror=True, linecolor="black", linewidth=2,
                               tickmode="array", tickvals=lat_ticks, ticktext=lat_text, showticklabels=pn["left"],
                               ticks="", ticklabelstandoff=17, tickfont=TICK_FONT)
    if pn["kind"] == "p":
        fig.add_trace(go.Heatmap(x=lon_centres, y=lat_centres, z=scale_tenths(pn["grid"]), xaxis=xa, yaxis=ya,
                                 colorscale=p_scale, zmin=0, zmax=4.4, zsmooth="best", showscale=False, hoverinfo="skip"))
    else:
        fig.add_trace(go.Heatmap(x=lon_centres, y=lat_centres, z=pn["grid"], xaxis=xa, yaxis=ya,
                                 colorscale=or_scale, zmin=-8, zmax=8, zsmooth="best", showscale=False, hoverinfo="skip"))
    if pn["key"] == "f":
        fig.add_trace(go.Scatter(x=speckle_lon, y=speckle_lat, xaxis=xa, yaxis=ya, mode="markers",
                                 marker=dict(symbol="square", size=2.6, color="white"), showlegend=False, hoverinfo="skip"))
    if pn["cont"]:
        cx, cy = join(pn["cont"])
        fig.add_trace(go.Scatter(x=cx, y=cy, xaxis=xa, yaxis=ya, mode="lines",
                                 line=dict(color=pn["ccol"], width=pn["cw"]), showlegend=False, hoverinfo="skip"))
    fig.add_trace(go.Scatter(x=coast_x, y=coast_y, xaxis=xa, yaxis=ya, mode="lines",
                             line=dict(color="black", width=2.4), showlegend=False, hoverinfo="skip"))
    for v in lon_ticks:
        shapes.append(dict(type="line", xref=xa, yref=ya, x0=v, x1=v, y0=37, y1=73,
                           line=dict(color="rgba(128,128,128,0.55)", width=1, dash="dash")))
    for v in lat_ticks:
        shapes.append(dict(type="line", xref=xa, yref=ya, x0=-20, x1=50, y0=v, y1=v,
                           line=dict(color="rgba(128,128,128,0.55)", width=1, dash="dash")))
    for lx, ly, txt in pn["labels"]:
        note(lx, ly, txt, size=14, color=GREY, xref=xa, yref=ya)
    note(pn["tx"]/W, 1-(pn["y"][0]-20)/H, pn["title"], size=18)
    note((pn["x"][0]-2)/W, 1-(pn["y"][0]-12)/H, pn["key"]+")", size=18, xanchor="left")

cb_step = [i/100 for i in range(320)]
cb_mid = [u+0.005 for u in cb_step]
cb_vals = [u if u <= 2 else 2+(u-2)*2 for u in cb_mid]
fig.add_trace(go.Heatmap(x=cb_mid, y=[0.5], z=[cb_vals], xaxis="x8", yaxis="y8", colorscale=p_scale,
                         zmin=0, zmax=4.4, showscale=False, hoverinfo="skip"))
minor_vals = [i*0.05 for i in range(65)]
layout["xaxis8"] = dict(domain=[56/W, 724/W], range=[0, 668/198.6], anchor="y8", showgrid=False, zeroline=False,
                        showline=False, automargin=False, tickmode="array", tickvals=[squeeze(p) for p in p_major_ticks],
                        ticktext=[f"{p:.1f}" for p in p_major_ticks], tickangle=-90, ticks="outside", ticklen=8, tickwidth=1.5,
                        tickcolor="black", tickfont=TICK_FONT,
                        minor=dict(tickmode="array", tickvals=minor_vals, ticks="outside", ticklen=4, tickwidth=1, tickcolor="black"))
layout["yaxis8"] = dict(domain=[1-976.5/H, 1-966.5/H], range=[0, 1], anchor="x8", visible=False)
shapes.append(dict(type="path", xref="x8", yref="y8", path="M 3.2 0 L 3.36 0.5 L 3.2 1 Z", fillcolor=p_colors[-1], line=dict(width=0)))
shapes.append(dict(type="path", xref="x8", yref="y8", path="M 0 0 L 3.2 0 L 3.36 0.5 L 3.2 1 L 0 1 Z", line=dict(color="black", width=2)))
shapes.append(dict(type="line", xref="x8", yref="y8", x0=2, x1=2, y0=0, y1=1, line=dict(color="black", width=2.5)))
note(374/W, 1-1027/H, "P [%]", size=18)

fig.add_trace(go.Heatmap(x=or_bin_centres, y=[0.5], z=[or_bin_centres], xaxis="x9", yaxis="y9", colorscale=or_scale,
                         zmin=-8, zmax=8, showscale=False, hoverinfo="skip"))
layout["xaxis9"] = dict(domain=[752/W, 1095/W], range=[-7.85, 7.54], anchor="y9", showgrid=False, zeroline=False,
                        showline=False, automargin=False, tickmode="array", tickvals=or_major_ticks,
                        ticktext=[("−"+str(-t) if t < 0 else str(t)) for t in or_major_ticks],
                        tickangle=-90, ticks="outside", ticklen=10, tickwidth=2.5, tickcolor="black", tickfont=TICK_FONT,
                        minor=dict(tickmode="array", tickvals=or_minor_ticks, ticks="outside", ticklen=10, tickwidth=2.5, tickcolor="black"))
layout["yaxis9"] = dict(domain=[1-976.5/H, 1-966.5/H], range=[0, 1], anchor="x9", visible=False)
shapes.append(dict(type="path", xref="x9", yref="y9", path="M -7 0 L -7.85 0.5 L -7 1 Z", fillcolor="#40004b", line=dict(width=0)))
shapes.append(dict(type="path", xref="x9", yref="y9", path="M 7 0 L 7.54 0.5 L 7 1 Z", fillcolor="#00441b", line=dict(width=0)))
shapes.append(dict(type="path", xref="x9", yref="y9", path="M -7 0 L 7 0 L 7.54 0.5 L 7 1 L -7 1 L -7.85 0.5 Z", line=dict(color="black", width=2)))
note(927/W, 1-1027/H, "[]", size=18)

fig.update_layout(width=W, height=H, autosize=False, margin=dict(l=0, r=0, t=0, b=0, autoexpand=False),
                  paper_bgcolor="white", plot_bgcolor="white", showlegend=False,
                  font=dict(family=FONT, color="black"), shapes=shapes, annotations=annotations, **layout)
fig.write_html("out.html", config=dict(displayModeBar=False),
               post_script="document.body.style.margin='0';document.body.style.overflow='hidden';")
